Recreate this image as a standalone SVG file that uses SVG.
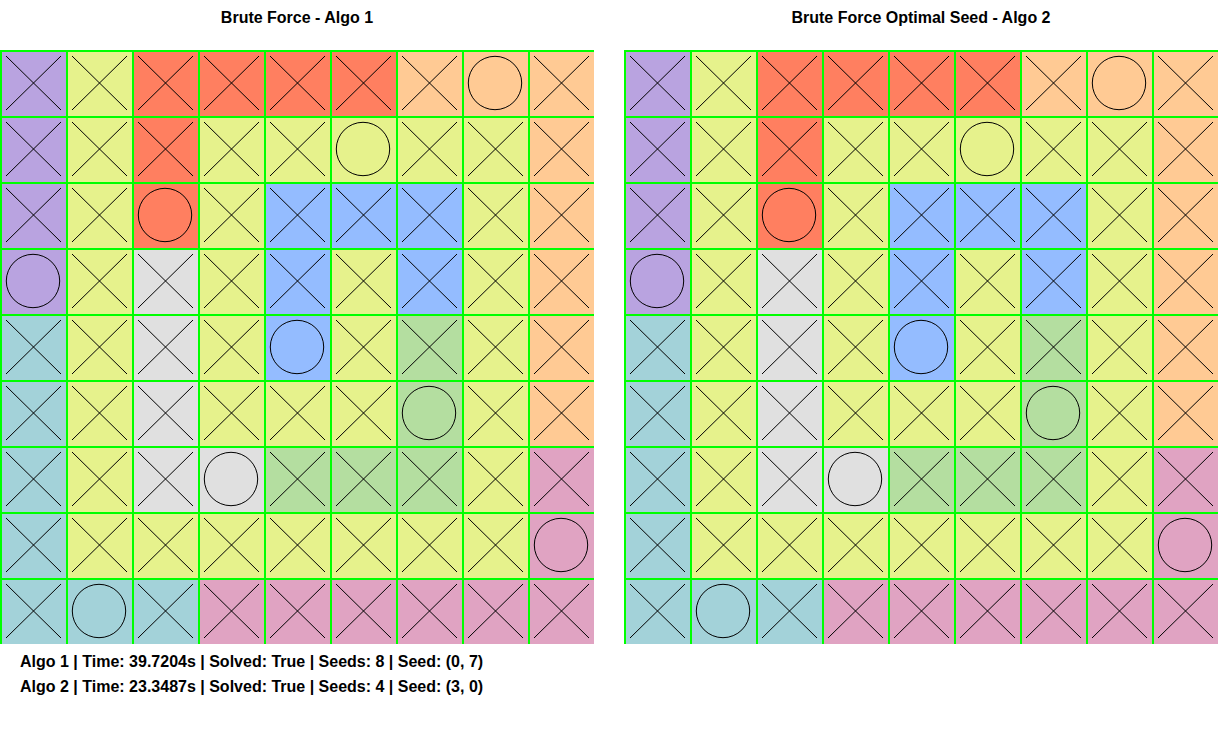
<svg xmlns="http://www.w3.org/2000/svg" xmlns:xlink="http://www.w3.org/1999/xlink" width="1228" height="744" viewBox="0 0 1228 744">
<style>
.P{fill:#B9A3E0}.Y{fill:#E6F28C}.R{fill:#FF7F60}.K{fill:#FFCA94}.B{fill:#94BCFF}.G{fill:#E0E0E0}.T{fill:#A3D2D9}.N{fill:#B4DEA0}.M{fill:#E0A3C2}
.mk{fill:none;stroke:#000;stroke-width:1}
.gl{fill:#00FF00}
.t{font-family:"Liberation Sans",Arial,sans-serif;font-weight:bold;fill:#000}
</style>
<defs>
<path id="x" class="mk" d="M6 6L61 60M61 6L6 60"/>
<circle id="o" class="mk" cx="33" cy="33" r="26.7"/>
<g id="gridlines" class="gl">
<rect x="0" y="0" width="2" height="594"/><rect x="66" y="0" width="2" height="594"/><rect x="132" y="0" width="2" height="594"/><rect x="198" y="0" width="2" height="594"/><rect x="264" y="0" width="2" height="594"/><rect x="330" y="0" width="2" height="594"/><rect x="396" y="0" width="2" height="594"/><rect x="462" y="0" width="2" height="594"/><rect x="528" y="0" width="2" height="594"/>
<rect x="0" y="0" width="594" height="2"/><rect x="0" y="66" width="594" height="2"/><rect x="0" y="132" width="594" height="2"/><rect x="0" y="198" width="594" height="2"/><rect x="0" y="264" width="594" height="2"/><rect x="0" y="330" width="594" height="2"/><rect x="0" y="396" width="594" height="2"/><rect x="0" y="462" width="594" height="2"/><rect x="0" y="528" width="594" height="2"/>
</g>
</defs>
<rect width="1228" height="744" fill="#fff"/>
<text class="t" x="297" y="22.5" font-size="16" text-anchor="middle">Brute Force - Algo 1</text>
<text class="t" x="921" y="22.5" font-size="16" text-anchor="middle">Brute Force Optimal Seed - Algo 2</text>

<g id="grid1" transform="translate(0 50)">
<g id="a-r0c0" transform="translate(0 0)"><rect class="P" width="66" height="66"/><use href="#x"/></g>
<g id="a-r0c1" transform="translate(66 0)"><rect class="Y" width="66" height="66"/><use href="#x"/></g>
<g id="a-r0c2" transform="translate(132 0)"><rect class="R" width="66" height="66"/><use href="#x"/></g>
<g id="a-r0c3" transform="translate(198 0)"><rect class="R" width="66" height="66"/><use href="#x"/></g>
<g id="a-r0c4" transform="translate(264 0)"><rect class="R" width="66" height="66"/><use href="#x"/></g>
<g id="a-r0c5" transform="translate(330 0)"><rect class="R" width="66" height="66"/><use href="#x"/></g>
<g id="a-r0c6" transform="translate(396 0)"><rect class="K" width="66" height="66"/><use href="#x"/></g>
<g id="a-r0c7" transform="translate(462 0)"><rect class="K" width="66" height="66"/><use href="#o"/></g>
<g id="a-r0c8" transform="translate(528 0)"><rect class="K" width="66" height="66"/><use href="#x"/></g>

<g id="a-r1c0" transform="translate(0 66)"><rect class="P" width="66" height="66"/><use href="#x"/></g>
<g id="a-r1c1" transform="translate(66 66)"><rect class="Y" width="66" height="66"/><use href="#x"/></g>
<g id="a-r1c2" transform="translate(132 66)"><rect class="R" width="66" height="66"/><use href="#x"/></g>
<g id="a-r1c3" transform="translate(198 66)"><rect class="Y" width="66" height="66"/><use href="#x"/></g>
<g id="a-r1c4" transform="translate(264 66)"><rect class="Y" width="66" height="66"/><use href="#x"/></g>
<g id="a-r1c5" transform="translate(330 66)"><rect class="Y" width="66" height="66"/><use href="#o"/></g>
<g id="a-r1c6" transform="translate(396 66)"><rect class="Y" width="66" height="66"/><use href="#x"/></g>
<g id="a-r1c7" transform="translate(462 66)"><rect class="Y" width="66" height="66"/><use href="#x"/></g>
<g id="a-r1c8" transform="translate(528 66)"><rect class="K" width="66" height="66"/><use href="#x"/></g>

<g id="a-r2c0" transform="translate(0 132)"><rect class="P" width="66" height="66"/><use href="#x"/></g>
<g id="a-r2c1" transform="translate(66 132)"><rect class="Y" width="66" height="66"/><use href="#x"/></g>
<g id="a-r2c2" transform="translate(132 132)"><rect class="R" width="66" height="66"/><use href="#o"/></g>
<g id="a-r2c3" transform="translate(198 132)"><rect class="Y" width="66" height="66"/><use href="#x"/></g>
<g id="a-r2c4" transform="translate(264 132)"><rect class="B" width="66" height="66"/><use href="#x"/></g>
<g id="a-r2c5" transform="translate(330 132)"><rect class="B" width="66" height="66"/><use href="#x"/></g>
<g id="a-r2c6" transform="translate(396 132)"><rect class="B" width="66" height="66"/><use href="#x"/></g>
<g id="a-r2c7" transform="translate(462 132)"><rect class="Y" width="66" height="66"/><use href="#x"/></g>
<g id="a-r2c8" transform="translate(528 132)"><rect class="K" width="66" height="66"/><use href="#x"/></g>

<g id="a-r3c0" transform="translate(0 198)"><rect class="P" width="66" height="66"/><use href="#o"/></g>
<g id="a-r3c1" transform="translate(66 198)"><rect class="Y" width="66" height="66"/><use href="#x"/></g>
<g id="a-r3c2" transform="translate(132 198)"><rect class="G" width="66" height="66"/><use href="#x"/></g>
<g id="a-r3c3" transform="translate(198 198)"><rect class="Y" width="66" height="66"/><use href="#x"/></g>
<g id="a-r3c4" transform="translate(264 198)"><rect class="B" width="66" height="66"/><use href="#x"/></g>
<g id="a-r3c5" transform="translate(330 198)"><rect class="Y" width="66" height="66"/><use href="#x"/></g>
<g id="a-r3c6" transform="translate(396 198)"><rect class="B" width="66" height="66"/><use href="#x"/></g>
<g id="a-r3c7" transform="translate(462 198)"><rect class="Y" width="66" height="66"/><use href="#x"/></g>
<g id="a-r3c8" transform="translate(528 198)"><rect class="K" width="66" height="66"/><use href="#x"/></g>

<g id="a-r4c0" transform="translate(0 264)"><rect class="T" width="66" height="66"/><use href="#x"/></g>
<g id="a-r4c1" transform="translate(66 264)"><rect class="Y" width="66" height="66"/><use href="#x"/></g>
<g id="a-r4c2" transform="translate(132 264)"><rect class="G" width="66" height="66"/><use href="#x"/></g>
<g id="a-r4c3" transform="translate(198 264)"><rect class="Y" width="66" height="66"/><use href="#x"/></g>
<g id="a-r4c4" transform="translate(264 264)"><rect class="B" width="66" height="66"/><use href="#o"/></g>
<g id="a-r4c5" transform="translate(330 264)"><rect class="Y" width="66" height="66"/><use href="#x"/></g>
<g id="a-r4c6" transform="translate(396 264)"><rect class="N" width="66" height="66"/><use href="#x"/></g>
<g id="a-r4c7" transform="translate(462 264)"><rect class="Y" width="66" height="66"/><use href="#x"/></g>
<g id="a-r4c8" transform="translate(528 264)"><rect class="K" width="66" height="66"/><use href="#x"/></g>

<g id="a-r5c0" transform="translate(0 330)"><rect class="T" width="66" height="66"/><use href="#x"/></g>
<g id="a-r5c1" transform="translate(66 330)"><rect class="Y" width="66" height="66"/><use href="#x"/></g>
<g id="a-r5c2" transform="translate(132 330)"><rect class="G" width="66" height="66"/><use href="#x"/></g>
<g id="a-r5c3" transform="translate(198 330)"><rect class="Y" width="66" height="66"/><use href="#x"/></g>
<g id="a-r5c4" transform="translate(264 330)"><rect class="Y" width="66" height="66"/><use href="#x"/></g>
<g id="a-r5c5" transform="translate(330 330)"><rect class="Y" width="66" height="66"/><use href="#x"/></g>
<g id="a-r5c6" transform="translate(396 330)"><rect class="N" width="66" height="66"/><use href="#o"/></g>
<g id="a-r5c7" transform="translate(462 330)"><rect class="Y" width="66" height="66"/><use href="#x"/></g>
<g id="a-r5c8" transform="translate(528 330)"><rect class="K" width="66" height="66"/><use href="#x"/></g>

<g id="a-r6c0" transform="translate(0 396)"><rect class="T" width="66" height="66"/><use href="#x"/></g>
<g id="a-r6c1" transform="translate(66 396)"><rect class="Y" width="66" height="66"/><use href="#x"/></g>
<g id="a-r6c2" transform="translate(132 396)"><rect class="G" width="66" height="66"/><use href="#x"/></g>
<g id="a-r6c3" transform="translate(198 396)"><rect class="G" width="66" height="66"/><use href="#o"/></g>
<g id="a-r6c4" transform="translate(264 396)"><rect class="N" width="66" height="66"/><use href="#x"/></g>
<g id="a-r6c5" transform="translate(330 396)"><rect class="N" width="66" height="66"/><use href="#x"/></g>
<g id="a-r6c6" transform="translate(396 396)"><rect class="N" width="66" height="66"/><use href="#x"/></g>
<g id="a-r6c7" transform="translate(462 396)"><rect class="Y" width="66" height="66"/><use href="#x"/></g>
<g id="a-r6c8" transform="translate(528 396)"><rect class="M" width="66" height="66"/><use href="#x"/></g>

<g id="a-r7c0" transform="translate(0 462)"><rect class="T" width="66" height="66"/><use href="#x"/></g>
<g id="a-r7c1" transform="translate(66 462)"><rect class="Y" width="66" height="66"/><use href="#x"/></g>
<g id="a-r7c2" transform="translate(132 462)"><rect class="Y" width="66" height="66"/><use href="#x"/></g>
<g id="a-r7c3" transform="translate(198 462)"><rect class="Y" width="66" height="66"/><use href="#x"/></g>
<g id="a-r7c4" transform="translate(264 462)"><rect class="Y" width="66" height="66"/><use href="#x"/></g>
<g id="a-r7c5" transform="translate(330 462)"><rect class="Y" width="66" height="66"/><use href="#x"/></g>
<g id="a-r7c6" transform="translate(396 462)"><rect class="Y" width="66" height="66"/><use href="#x"/></g>
<g id="a-r7c7" transform="translate(462 462)"><rect class="Y" width="66" height="66"/><use href="#x"/></g>
<g id="a-r7c8" transform="translate(528 462)"><rect class="M" width="66" height="66"/><use href="#o"/></g>

<g id="a-r8c0" transform="translate(0 528)"><rect class="T" width="66" height="66"/><use href="#x"/></g>
<g id="a-r8c1" transform="translate(66 528)"><rect class="T" width="66" height="66"/><use href="#o"/></g>
<g id="a-r8c2" transform="translate(132 528)"><rect class="T" width="66" height="66"/><use href="#x"/></g>
<g id="a-r8c3" transform="translate(198 528)"><rect class="M" width="66" height="66"/><use href="#x"/></g>
<g id="a-r8c4" transform="translate(264 528)"><rect class="M" width="66" height="66"/><use href="#x"/></g>
<g id="a-r8c5" transform="translate(330 528)"><rect class="M" width="66" height="66"/><use href="#x"/></g>
<g id="a-r8c6" transform="translate(396 528)"><rect class="M" width="66" height="66"/><use href="#x"/></g>
<g id="a-r8c7" transform="translate(462 528)"><rect class="M" width="66" height="66"/><use href="#x"/></g>
<g id="a-r8c8" transform="translate(528 528)"><rect class="M" width="66" height="66"/><use href="#x"/></g>
<use href="#gridlines"/>
</g>

<g id="grid2" transform="translate(624 50)">
<g id="b-r0c0" transform="translate(0 0)"><rect class="P" width="66" height="66"/><use href="#x"/></g>
<g id="b-r0c1" transform="translate(66 0)"><rect class="Y" width="66" height="66"/><use href="#x"/></g>
<g id="b-r0c2" transform="translate(132 0)"><rect class="R" width="66" height="66"/><use href="#x"/></g>
<g id="b-r0c3" transform="translate(198 0)"><rect class="R" width="66" height="66"/><use href="#x"/></g>
<g id="b-r0c4" transform="translate(264 0)"><rect class="R" width="66" height="66"/><use href="#x"/></g>
<g id="b-r0c5" transform="translate(330 0)"><rect class="R" width="66" height="66"/><use href="#x"/></g>
<g id="b-r0c6" transform="translate(396 0)"><rect class="K" width="66" height="66"/><use href="#x"/></g>
<g id="b-r0c7" transform="translate(462 0)"><rect class="K" width="66" height="66"/><use href="#o"/></g>
<g id="b-r0c8" transform="translate(528 0)"><rect class="K" width="66" height="66"/><use href="#x"/></g>

<g id="b-r1c0" transform="translate(0 66)"><rect class="P" width="66" height="66"/><use href="#x"/></g>
<g id="b-r1c1" transform="translate(66 66)"><rect class="Y" width="66" height="66"/><use href="#x"/></g>
<g id="b-r1c2" transform="translate(132 66)"><rect class="R" width="66" height="66"/><use href="#x"/></g>
<g id="b-r1c3" transform="translate(198 66)"><rect class="Y" width="66" height="66"/><use href="#x"/></g>
<g id="b-r1c4" transform="translate(264 66)"><rect class="Y" width="66" height="66"/><use href="#x"/></g>
<g id="b-r1c5" transform="translate(330 66)"><rect class="Y" width="66" height="66"/><use href="#o"/></g>
<g id="b-r1c6" transform="translate(396 66)"><rect class="Y" width="66" height="66"/><use href="#x"/></g>
<g id="b-r1c7" transform="translate(462 66)"><rect class="Y" width="66" height="66"/><use href="#x"/></g>
<g id="b-r1c8" transform="translate(528 66)"><rect class="K" width="66" height="66"/><use href="#x"/></g>

<g id="b-r2c0" transform="translate(0 132)"><rect class="P" width="66" height="66"/><use href="#x"/></g>
<g id="b-r2c1" transform="translate(66 132)"><rect class="Y" width="66" height="66"/><use href="#x"/></g>
<g id="b-r2c2" transform="translate(132 132)"><rect class="R" width="66" height="66"/><use href="#o"/></g>
<g id="b-r2c3" transform="translate(198 132)"><rect class="Y" width="66" height="66"/><use href="#x"/></g>
<g id="b-r2c4" transform="translate(264 132)"><rect class="B" width="66" height="66"/><use href="#x"/></g>
<g id="b-r2c5" transform="translate(330 132)"><rect class="B" width="66" height="66"/><use href="#x"/></g>
<g id="b-r2c6" transform="translate(396 132)"><rect class="B" width="66" height="66"/><use href="#x"/></g>
<g id="b-r2c7" transform="translate(462 132)"><rect class="Y" width="66" height="66"/><use href="#x"/></g>
<g id="b-r2c8" transform="translate(528 132)"><rect class="K" width="66" height="66"/><use href="#x"/></g>

<g id="b-r3c0" transform="translate(0 198)"><rect class="P" width="66" height="66"/><use href="#o"/></g>
<g id="b-r3c1" transform="translate(66 198)"><rect class="Y" width="66" height="66"/><use href="#x"/></g>
<g id="b-r3c2" transform="translate(132 198)"><rect class="G" width="66" height="66"/><use href="#x"/></g>
<g id="b-r3c3" transform="translate(198 198)"><rect class="Y" width="66" height="66"/><use href="#x"/></g>
<g id="b-r3c4" transform="translate(264 198)"><rect class="B" width="66" height="66"/><use href="#x"/></g>
<g id="b-r3c5" transform="translate(330 198)"><rect class="Y" width="66" height="66"/><use href="#x"/></g>
<g id="b-r3c6" transform="translate(396 198)"><rect class="B" width="66" height="66"/><use href="#x"/></g>
<g id="b-r3c7" transform="translate(462 198)"><rect class="Y" width="66" height="66"/><use href="#x"/></g>
<g id="b-r3c8" transform="translate(528 198)"><rect class="K" width="66" height="66"/><use href="#x"/></g>

<g id="b-r4c0" transform="translate(0 264)"><rect class="T" width="66" height="66"/><use href="#x"/></g>
<g id="b-r4c1" transform="translate(66 264)"><rect class="Y" width="66" height="66"/><use href="#x"/></g>
<g id="b-r4c2" transform="translate(132 264)"><rect class="G" width="66" height="66"/><use href="#x"/></g>
<g id="b-r4c3" transform="translate(198 264)"><rect class="Y" width="66" height="66"/><use href="#x"/></g>
<g id="b-r4c4" transform="translate(264 264)"><rect class="B" width="66" height="66"/><use href="#o"/></g>
<g id="b-r4c5" transform="translate(330 264)"><rect class="Y" width="66" height="66"/><use href="#x"/></g>
<g id="b-r4c6" transform="translate(396 264)"><rect class="N" width="66" height="66"/><use href="#x"/></g>
<g id="b-r4c7" transform="translate(462 264)"><rect class="Y" width="66" height="66"/><use href="#x"/></g>
<g id="b-r4c8" transform="translate(528 264)"><rect class="K" width="66" height="66"/><use href="#x"/></g>

<g id="b-r5c0" transform="translate(0 330)"><rect class="T" width="66" height="66"/><use href="#x"/></g>
<g id="b-r5c1" transform="translate(66 330)"><rect class="Y" width="66" height="66"/><use href="#x"/></g>
<g id="b-r5c2" transform="translate(132 330)"><rect class="G" width="66" height="66"/><use href="#x"/></g>
<g id="b-r5c3" transform="translate(198 330)"><rect class="Y" width="66" height="66"/><use href="#x"/></g>
<g id="b-r5c4" transform="translate(264 330)"><rect class="Y" width="66" height="66"/><use href="#x"/></g>
<g id="b-r5c5" transform="translate(330 330)"><rect class="Y" width="66" height="66"/><use href="#x"/></g>
<g id="b-r5c6" transform="translate(396 330)"><rect class="N" width="66" height="66"/><use href="#o"/></g>
<g id="b-r5c7" transform="translate(462 330)"><rect class="Y" width="66" height="66"/><use href="#x"/></g>
<g id="b-r5c8" transform="translate(528 330)"><rect class="K" width="66" height="66"/><use href="#x"/></g>

<g id="b-r6c0" transform="translate(0 396)"><rect class="T" width="66" height="66"/><use href="#x"/></g>
<g id="b-r6c1" transform="translate(66 396)"><rect class="Y" width="66" height="66"/><use href="#x"/></g>
<g id="b-r6c2" transform="translate(132 396)"><rect class="G" width="66" height="66"/><use href="#x"/></g>
<g id="b-r6c3" transform="translate(198 396)"><rect class="G" width="66" height="66"/><use href="#o"/></g>
<g id="b-r6c4" transform="translate(264 396)"><rect class="N" width="66" height="66"/><use href="#x"/></g>
<g id="b-r6c5" transform="translate(330 396)"><rect class="N" width="66" height="66"/><use href="#x"/></g>
<g id="b-r6c6" transform="translate(396 396)"><rect class="N" width="66" height="66"/><use href="#x"/></g>
<g id="b-r6c7" transform="translate(462 396)"><rect class="Y" width="66" height="66"/><use href="#x"/></g>
<g id="b-r6c8" transform="translate(528 396)"><rect class="M" width="66" height="66"/><use href="#x"/></g>

<g id="b-r7c0" transform="translate(0 462)"><rect class="T" width="66" height="66"/><use href="#x"/></g>
<g id="b-r7c1" transform="translate(66 462)"><rect class="Y" width="66" height="66"/><use href="#x"/></g>
<g id="b-r7c2" transform="translate(132 462)"><rect class="Y" width="66" height="66"/><use href="#x"/></g>
<g id="b-r7c3" transform="translate(198 462)"><rect class="Y" width="66" height="66"/><use href="#x"/></g>
<g id="b-r7c4" transform="translate(264 462)"><rect class="Y" width="66" height="66"/><use href="#x"/></g>
<g id="b-r7c5" transform="translate(330 462)"><rect class="Y" width="66" height="66"/><use href="#x"/></g>
<g id="b-r7c6" transform="translate(396 462)"><rect class="Y" width="66" height="66"/><use href="#x"/></g>
<g id="b-r7c7" transform="translate(462 462)"><rect class="Y" width="66" height="66"/><use href="#x"/></g>
<g id="b-r7c8" transform="translate(528 462)"><rect class="M" width="66" height="66"/><use href="#o"/></g>

<g id="b-r8c0" transform="translate(0 528)"><rect class="T" width="66" height="66"/><use href="#x"/></g>
<g id="b-r8c1" transform="translate(66 528)"><rect class="T" width="66" height="66"/><use href="#o"/></g>
<g id="b-r8c2" transform="translate(132 528)"><rect class="T" width="66" height="66"/><use href="#x"/></g>
<g id="b-r8c3" transform="translate(198 528)"><rect class="M" width="66" height="66"/><use href="#x"/></g>
<g id="b-r8c4" transform="translate(264 528)"><rect class="M" width="66" height="66"/><use href="#x"/></g>
<g id="b-r8c5" transform="translate(330 528)"><rect class="M" width="66" height="66"/><use href="#x"/></g>
<g id="b-r8c6" transform="translate(396 528)"><rect class="M" width="66" height="66"/><use href="#x"/></g>
<g id="b-r8c7" transform="translate(462 528)"><rect class="M" width="66" height="66"/><use href="#x"/></g>
<g id="b-r8c8" transform="translate(528 528)"><rect class="M" width="66" height="66"/><use href="#x"/></g>
<use href="#gridlines"/>
</g>

<text class="t" x="20" y="667" font-size="16">Algo 1 | Time: 39.7204s | Solved: True | Seeds: 8 | Seed: (0, 7)</text>
<text class="t" x="20" y="692" font-size="16">Algo 2 | Time: 23.3487s | Solved: True | Seeds: 4 | Seed: (3, 0)</text>
</svg>
